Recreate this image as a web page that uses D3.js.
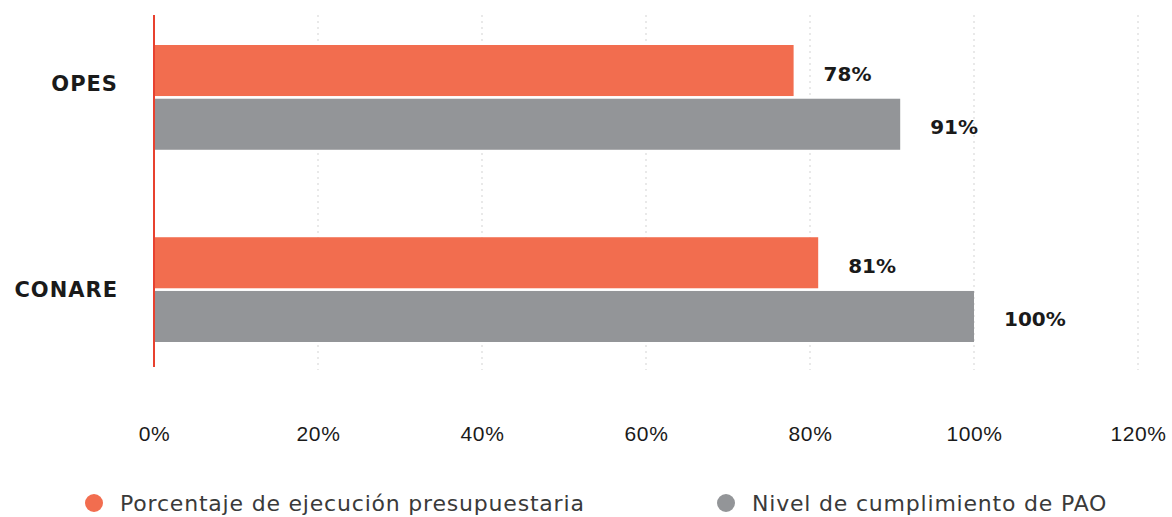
<!DOCTYPE html>
<html lang="es">
<head>
    <meta charset="utf-8">
    <title>Ejecución presupuestaria y PAO</title>
    <script src="https://cdn.jsdelivr.net/npm/d3@7"></script>
</head>
<style>
    body {
        margin: 0;
        padding: 0;
        background-color: #ffffff;
        font-family: "DejaVu Sans", sans-serif;
    }
    .cat-label {
        font-size: 21px;
        font-weight: bold;
        letter-spacing: 1px;
        fill: #1a1a1a;
        text-anchor: end;
    }
    .value-label {
        font-size: 20px;
        font-weight: bold;
        fill: #1a1a1a;
    }
    .x-axis text {
        font-size: 21px;
        font-weight: 400;
        letter-spacing: 0.6px;
        fill: #1a1a1a;
    }
    .legend text {
        font-size: 22px;
        font-weight: 400;
        letter-spacing: 0.8px;
        fill: #3a3a3a;
    }
</style>
<body>
    <svg width="1172" height="517" id="chart"></svg>
    <script>
        // chart data
        var categories = ["OPES", "CONARE"];
        var seriesNames = ["Porcentaje de ejecución presupuestaria", "Nivel de cumplimiento de PAO"];
        var ejecucion = [78, 81];
        var cumplimiento = [91, 100];
        var xTicks = [0, 20, 40, 60, 80, 100, 120];
        var colors = ["#f26d4f", "#939598"];

        var data = categories.map(function (c, i) {
            return { cat: c, values: [ejecucion[i], cumplimiento[i]] };
        });

        var svg = d3.select("#chart");

        var x = d3.scaleLinear()
            .domain([0, 120])
            .range([154, 1138]);

        var y0 = d3.scaleBand()
            .domain(categories)
            .range([45, 342])
            .paddingInner(0.455)
            .paddingOuter(0);

        var y1 = d3.scaleBand()
            .domain([0, 1])
            .range([0, y0.bandwidth()])
            .paddingInner(0.05);

        // dotted vertical grid
        svg.append("g")
            .selectAll("line")
            .data(xTicks.slice(1))
            .enter().append("line")
            .attr("x1", function (d) { return x(d); })
            .attr("x2", function (d) { return x(d); })
            .attr("y1", 15)
            .attr("y2", 370)
            .attr("stroke", "#e2e2e2")
            .attr("stroke-width", 1.5)
            .attr("stroke-dasharray", "2,4");

        // bars
        var groups = svg.append("g")
            .selectAll("g")
            .data(data)
            .enter().append("g")
            .attr("transform", function (d) { return "translate(0," + y0(d.cat) + ")"; });

        groups.selectAll("rect")
            .data(function (d) { return d.values; })
            .enter().append("rect")
            .attr("x", x(0))
            .attr("y", function (d, i) { return y1(i); })
            .attr("width", function (d) { return x(d) - x(0); })
            .attr("height", y1.bandwidth())
            .attr("fill", function (d, i) { return colors[i]; });

        groups.selectAll("text")
            .data(function (d) { return d.values; })
            .enter().append("text")
            .attr("class", "value-label")
            .attr("x", function (d) { return x(d) + 30; })
            .attr("y", function (d, i) { return y1(i) + y1.bandwidth() / 2 + 3; })
            .attr("dy", "0.35em")
            .text(function (d) { return d + "%"; });

        // category labels
        svg.append("g")
            .selectAll("text")
            .data(categories)
            .enter().append("text")
            .attr("class", "cat-label")
            .attr("x", 118)
            .attr("y", function (d, i) { return y0(d) + y0.bandwidth() / 2 - (i === 0 ? 14 : 0); })
            .attr("dy", "0.35em")
            .text(function (d) { return d; });

        // red baseline
        svg.append("line")
            .attr("x1", x(0))
            .attr("x2", x(0))
            .attr("y1", 15)
            .attr("y2", 367)
            .attr("stroke", "#e8412f")
            .attr("stroke-width", 2);

        // x axis labels, no line
        var xAxis = svg.append("g")
            .attr("class", "x-axis")
            .attr("transform", "translate(0,420)")
            .call(d3.axisBottom(x).tickValues(xTicks).tickSize(0).tickFormat(function (d) { return d + "%"; }));
        xAxis.select(".domain").remove();
        xAxis.selectAll("text").attr("font-family", null).attr("font-size", null).attr("dy", "0.35em").attr("y", 14);

        // legend
        var legend = svg.append("g")
            .attr("class", "legend")
            .selectAll("g")
            .data(seriesNames)
            .enter().append("g")
            .attr("transform", function (d, i) { return "translate(" + (i === 0 ? 94 : 726) + ",503)"; });

        legend.append("circle")
            .attr("r", 9)
            .attr("fill", function (d, i) { return colors[i]; });

        legend.append("text")
            .attr("x", 26)
            .attr("dy", "0.35em")
            .text(function (d) { return d; });
    </script>
</body>
</html>
